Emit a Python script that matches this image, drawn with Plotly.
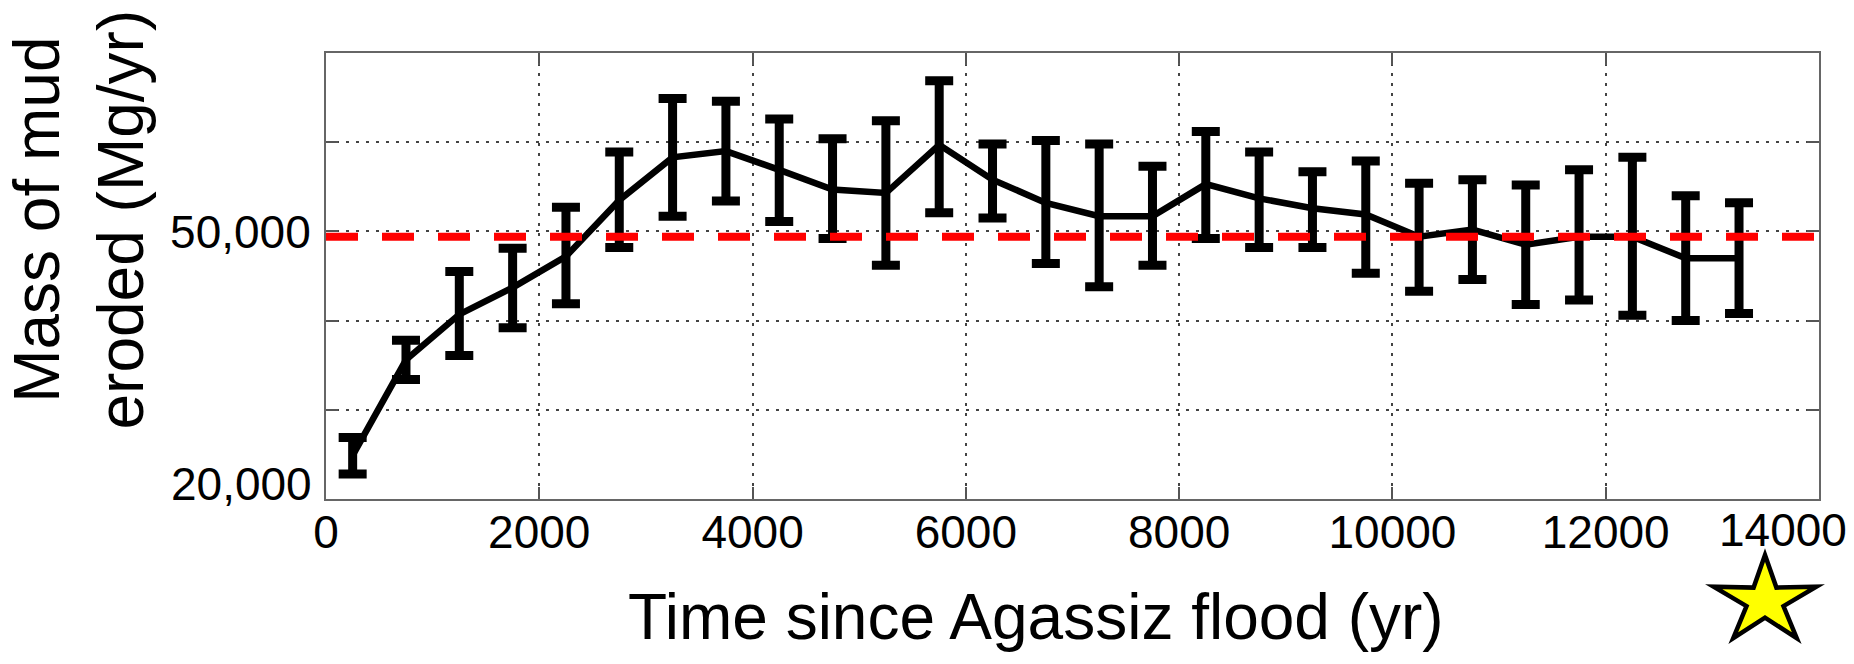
import math
import plotly.graph_objects as go

# ---- data ----
time_yr = [250, 750, 1250, 1750, 2250, 2750, 3250, 3750, 4250, 4750,
           5250, 5750, 6250, 6750, 7250, 7750, 8250, 8750, 9250, 9750,
           10250, 10750, 11250, 11750, 12250, 12750, 13250]
mass_mg_yr = [24900, 35600, 40700, 43700, 47200, 53500, 58300, 59000, 56900, 54700,
              54300, 59700, 55800, 53200, 51700, 51700, 55300, 53700, 52600, 51900,
              49400, 50200, 48500, 49400, 49400, 47000, 47000]
err_plus = [2000, 2200, 4800, 4400, 5500, 5400, 6600, 5600, 5700, 5700,
            8100, 7200, 4000, 7000, 8100, 5600, 5900, 5200, 4100, 6000,
            6000, 5600, 6700, 7500, 8900, 7000, 6200]
err_minus = [2100, 2200, 4600, 4500, 5300, 5300, 6600, 5600, 5800, 5500,
             8100, 7600, 4300, 6800, 7900, 5500, 6100, 5500, 4400, 6600,
             6100, 5600, 6700, 7100, 8800, 7000, 6200]
reference_level = 49400

x_range = [0, 14000]
y_range = [20000, 70000]
x_tickvals = [0, 2000, 4000, 6000, 8000, 10000, 12000, 14000]
x_ticktext = ["0", "2000", "4000", "6000", "8000", "10000", "12000", "14000"]
y_tickvals = [20000, 30000, 40000, 50000, 60000, 70000]
y_ticktext = ["20,000", "", "", "50,000", "", ""]

x_title = "Time since Agassiz flood (yr)"
y_title = "Mass of mud<br>eroded (Mg/yr)"

FONT = "Liberation Sans, Arial, Helvetica, sans-serif"

# ---- layout geometry (pixels) ----
W, H = 1854, 664
ML, MR, MT, MB = 326, 35, 53, 165
PW, PH = W - ML - MR, H - MT - MB


def to_paper(px, py):
    return (px - ML) / PW, (H - MB - py) / PH


# decorative yellow star below the axis, drawn as a shape
star_cx, star_cy, star_rx, star_ry, star_inner = 1765, 601, 54, 46, 0.36
pts = []
for k in range(10):
    ang = math.pi / 2 + k * math.pi / 5
    r = 1.0 if k % 2 == 0 else star_inner
    pts.append(to_paper(star_cx + r * star_rx * math.cos(ang),
                        star_cy - r * star_ry * math.sin(ang)))
star_path = "M " + " L ".join(f"{x:.5f},{y:.5f}" for x, y in pts) + " Z"

# The end tick labels are nudged inward (as in the reference), so they are drawn
# as annotations; the rest use the axes' own tick labels.
x_axis_labels = [t if v != x_range[1] else "" for v, t in zip(x_tickvals, x_ticktext)]
y_axis_labels = [t if v != y_range[0] else "" for v, t in zip(y_tickvals, y_ticktext)]
edge_label_font = dict(family=FONT, size=46, color="black")

fig = go.Figure()

fig.add_trace(go.Scatter(
    x=time_yr, y=mass_mg_yr, mode="lines",
    line=dict(color="black", width=6.5),
    error_y=dict(type="data", symmetric=False, array=err_plus, arrayminus=err_minus,
                 color="black", thickness=9, width=14),
    showlegend=False, hoverinfo="skip",
))

fig.add_trace(go.Scatter(
    x=x_range, y=[reference_level, reference_level], mode="lines",
    line=dict(color="#ff0000", width=8, dash="32px,24px"),
    showlegend=False, hoverinfo="skip",
))

axis_common = dict(
    showline=True, linecolor="#666666", linewidth=2, mirror="ticks",
    ticks="inside", ticklen=12, tickcolor="#555555", tickwidth=1.5,
    showgrid=True, gridcolor="#444444", gridwidth=1.5, griddash="3px,7px",
    zeroline=False, automargin=False,
    tickfont=dict(family=FONT, size=46, color="black"),
)

fig.update_layout(
    width=W, height=H,
    margin=dict(l=ML, r=MR, t=MT, b=MB, autoexpand=False),
    paper_bgcolor="white", plot_bgcolor="white",
    xaxis=dict(range=x_range, tickmode="array", tickvals=x_tickvals, ticktext=x_axis_labels,
               ticklabelstandoff=-8, **axis_common),
    yaxis=dict(range=y_range, tickmode="array", tickvals=y_tickvals, ticktext=y_axis_labels,
               ticklabelstandoff=4, **axis_common),
    shapes=[dict(type="path", path=star_path, xref="paper", yref="paper",
                 fillcolor="#ffff00", line=dict(color="black", width=4.5), layer="above")],
    annotations=[
        dict(text=x_ticktext[-1], xref="x", yref="paper", x=x_tickvals[-1], y=0,
             xanchor="right", yanchor="top", xshift=30, yshift=-3, showarrow=False,
             font=edge_label_font),
        dict(text=y_ticktext[0], xref="paper", yref="y", x=0, y=y_tickvals[0],
             xanchor="right", yanchor="middle", xshift=-12, yshift=15, showarrow=False,
             font=edge_label_font),
        dict(text=x_title, xref="paper", yref="paper", x=0.4753, y=-0.264,
             xanchor="center", yanchor="middle", showarrow=False,
             font=dict(family=FONT, size=64, color="black")),
        dict(text=y_title, xref="paper", yref="paper", x=-0.1655, y=0.6265,
             xanchor="center", yanchor="middle", showarrow=False, textangle=-90,
             font=dict(family=FONT, size=64, color="black")),
    ],
)

fig.write_html("out.html",
               config={"displayModeBar": False},
               post_script="document.body.style.margin='0';document.body.style.overflow='hidden';")
